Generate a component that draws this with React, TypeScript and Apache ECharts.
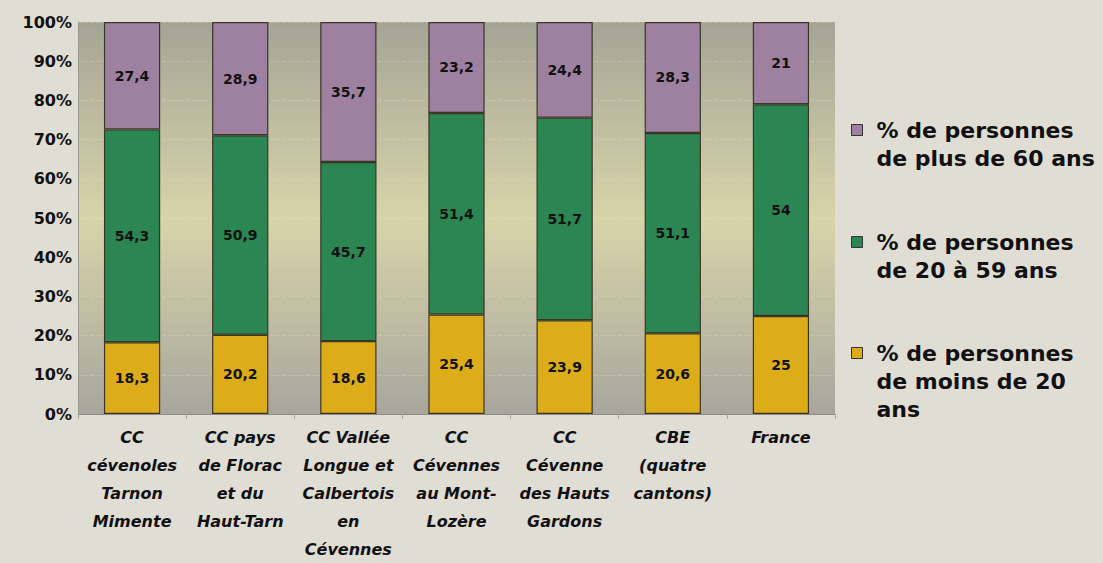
import React, { useEffect, useRef } from "react";
import * as echarts from "echarts";

const categories = [
  "CC\ncévenoles\nTarnon\nMimente",
  "CC pays\nde Florac\net du\nHaut-Tarn",
  "CC Vallée\nLongue et\nCalbertois\nen\nCévennes",
  "CC\nCévennes\nau Mont-\nLozère",
  "CC\nCévenne\ndes Hauts\nGardons",
  "CBE\n(quatre\ncantons)",
  "France",
];
const moins20 = [18.3, 20.2, 18.6, 25.4, 23.9, 20.6, 25];
const de20a59 = [54.3, 50.9, 45.7, 51.4, 51.7, 51.1, 54];
const plus60 = [27.4, 28.9, 35.7, 23.2, 24.4, 28.3, 21];
const yTicks = [0, 10, 20, 30, 40, 50, 60, 70, 80, 90, 100];

const seriesNames = ["moins20", "de20a59", "plus60"];
const legendLabels: Record<string, string[]> = {
  plus60: ["% de personnes", "de plus de 60 ans"],
  de20a59: ["% de personnes", "de 20 à 59 ans"],
  moins20: ["% de personnes", "de moins de 20", "ans"],
};
const colors: Record<string, string> = {
  moins20: "#dcad19",
  de20a59: "#2b8653",
  plus60: "#9e80a0",
};

const FONT = "DejaVu Sans";

export default function App() {
  const ref = useRef<HTMLDivElement>(null);
  useEffect(() => {
    if (!ref.current) return;
    const chart = echarts.init(ref.current, undefined, { renderer: "svg" });
    const dataSets: Record<string, number[]> = { moins20, de20a59, plus60 };
    const legendOrder = ["plus60", "de20a59", "moins20"];
    const legendTops = [88, 200, 283];
    chart.setOption({
      animation: false,
      backgroundColor: "#e0ddd5",
      grid: {
        left: 78,
        right: 268,
        top: 22,
        bottom: 145,
        show: true,
        borderWidth: 0,
        backgroundColor: new echarts.graphic.LinearGradient(0, 0, 0, 1, [
          { offset: 0, color: "#a4a496" },
          { offset: 0.5, color: "#d8d4a9" },
          { offset: 1, color: "#a8a69d" },
        ]),
      },
      legend: legendOrder.map((key, i) => ({
        data: [{ name: key }],
        orient: "vertical",
        left: 851,
        top: legendTops[i],
        padding: 0,
        itemWidth: 11,
        itemHeight: 11,
        icon: "rect",
        formatter: (name: string) => {
          const lines = legendLabels[name];
          const blanks = new Array(lines.length - 1).fill(" ");
          return [...blanks, ...lines].join("\n");
        },
        itemStyle: { borderColor: "#333", borderWidth: 1 },
        textStyle: {
          fontFamily: FONT,
          fontWeight: "bold",
          fontSize: 22,
          color: "#111",
          lineHeight: 28,
          padding: [0, 0, 0, 9],
        },
      })),
      xAxis: {
        type: "category",
        data: categories,
        axisLine: { show: true, lineStyle: { color: "#8d8c84", width: 1 } },
        axisTick: { show: true, alignWithLabel: false, length: 5, lineStyle: { color: "#a9a79e" } },
        axisLabel: {
          interval: 0,
          margin: 9,
          fontFamily: FONT,
          fontStyle: "italic",
          fontWeight: "bold",
          fontSize: 16,
          lineHeight: 28,
          color: "#111",
        },
      },
      yAxis: {
        type: "value",
        min: 0,
        max: 100,
        interval: 10,
        axisLine: { show: true, lineStyle: { color: "#9b9a90" } },
        axisTick: { show: false },
        splitLine: { show: true, lineStyle: { color: "rgba(235,232,200,0.25)", type: "dashed" } },
        axisLabel: {
          formatter: (v: number) => (yTicks.includes(v) ? `${v}%` : ""),
          margin: 6,
          fontFamily: FONT,
          fontWeight: "bold",
          fontSize: 16,
          color: "#111",
        },
      },
      series: seriesNames.map((key) => ({
        name: key,
        type: "bar",
        stack: "total",
        barWidth: "52%",
        data: dataSets[key],
        itemStyle: { color: colors[key], borderColor: "#3a3527", borderWidth: 1.2 },
        label: {
          show: true,
          position: "inside",
          formatter: (p: any) => String(p.value).replace(".", ","),
          fontFamily: FONT,
          fontWeight: "bold",
          fontSize: 14,
          color: "#111",
        },
      })),
    });
    return () => chart.dispose();
  }, []);
  return (
    <div
      style={{ position: "absolute", left: 0, top: 0, width: 1103, height: 563, background: "#e0ddd5" }}
    >
      <div ref={ref} style={{ width: 1103, height: 563 }} />
    </div>
  );
}
